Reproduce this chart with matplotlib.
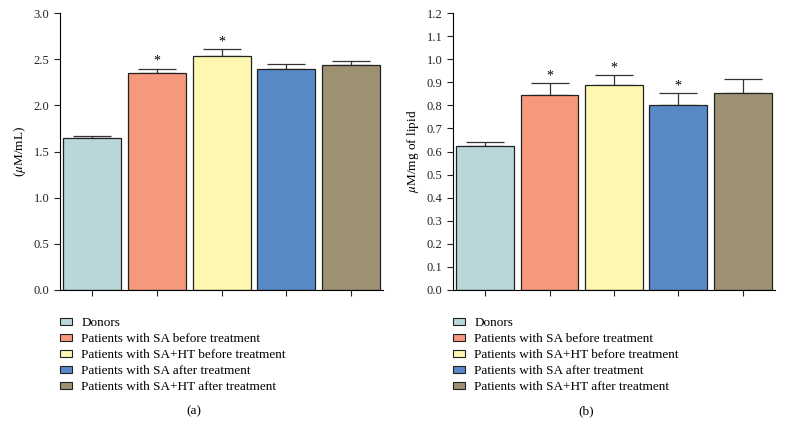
import numpy as np
import matplotlib
matplotlib.use('Agg')
import matplotlib.pyplot as plt
from matplotlib.patches import Patch

plt.rcParams['font.family'] = ['Liberation Serif', 'DejaVu Serif']
plt.rcParams['mathtext.fontset'] = 'stix'

# --- datos ---
grupos = ['Donors',
          'Patients with SA before treatment',
          'Patients with SA+HT before treatment',
          'Patients with SA after treatment',
          'Patients with SA+HT after treatment']
colores = ['#b9d6d8', '#f5987b', '#fef7b2', '#5689c5', '#9e9172']

valores_a = [1.65, 2.35, 2.54, 2.40, 2.44]
error_a = [0.02, 0.05, 0.07, 0.05, 0.045]
signif_a = [False, True, True, False, False]

valores_b = [0.625, 0.843, 0.890, 0.800, 0.855]
error_b = [0.017, 0.055, 0.040, 0.055, 0.060]
signif_b = [False, True, True, True, False]

fig = plt.figure(figsize=(7.85, 4.38), dpi=100)
ax_a = fig.add_axes([0.0764, 0.338, 0.412, 0.632])
ax_b = fig.add_axes([0.577, 0.338, 0.410, 0.632])


def panel(ax, vals, errs, sig, ymax, paso, ylabel, letra):
    x = np.arange(len(vals))
    ax.bar(x, vals, width=0.9, color=colores, edgecolor='#222222', linewidth=0.9, zorder=2)
    ax.errorbar(x, vals, yerr=[np.zeros(len(vals)), errs], fmt='none',
                ecolor='#333333', elinewidth=0.9, capsize=14, capthick=0.9, zorder=1)
    for xi, v, e, s in zip(x, vals, errs, sig):
        if s:
            ax.text(xi, v + e + ymax * 0.002, '*', ha='center', va='bottom', fontsize=10)
    ax.set_xlim(-0.5, 4.5)
    ax.set_ylim(0, ymax)
    ax.set_yticks(np.arange(0, ymax + paso / 2, paso))
    ax.yaxis.set_major_formatter(plt.FormatStrFormatter('%.1f'))
    ax.set_xticks(x)
    ax.set_xticklabels([])
    ax.tick_params(direction='out', length=4, width=0.8, labelsize=9, colors='#222222')
    ax.spines['top'].set_visible(False)
    ax.spines['right'].set_visible(False)
    ax.set_ylabel(ylabel, fontsize=9.5)
    handles = [Patch(facecolor=c, edgecolor='#222222', linewidth=0.8) for c in colores]
    ax.legend(handles, grupos, loc='upper left', bbox_to_anchor=(-0.02, -0.075),
              frameon=False, fontsize=9.5, handlelength=0.9, handleheight=0.5,
              handletextpad=0.7, labelspacing=0.3, borderpad=0)
    ax.text(0.415, -0.44, letra, transform=ax.transAxes, ha='center', va='center', fontsize=9.5)


panel(ax_a, valores_a, error_a, signif_a, 3.0, 0.5, r'($\mu$M/mL)', '(a)')
panel(ax_b, valores_b, error_b, signif_b, 1.2, 0.1, r'$\mu$M/mg of lipid', '(b)')

plt.savefig('out.png', dpi=100)
